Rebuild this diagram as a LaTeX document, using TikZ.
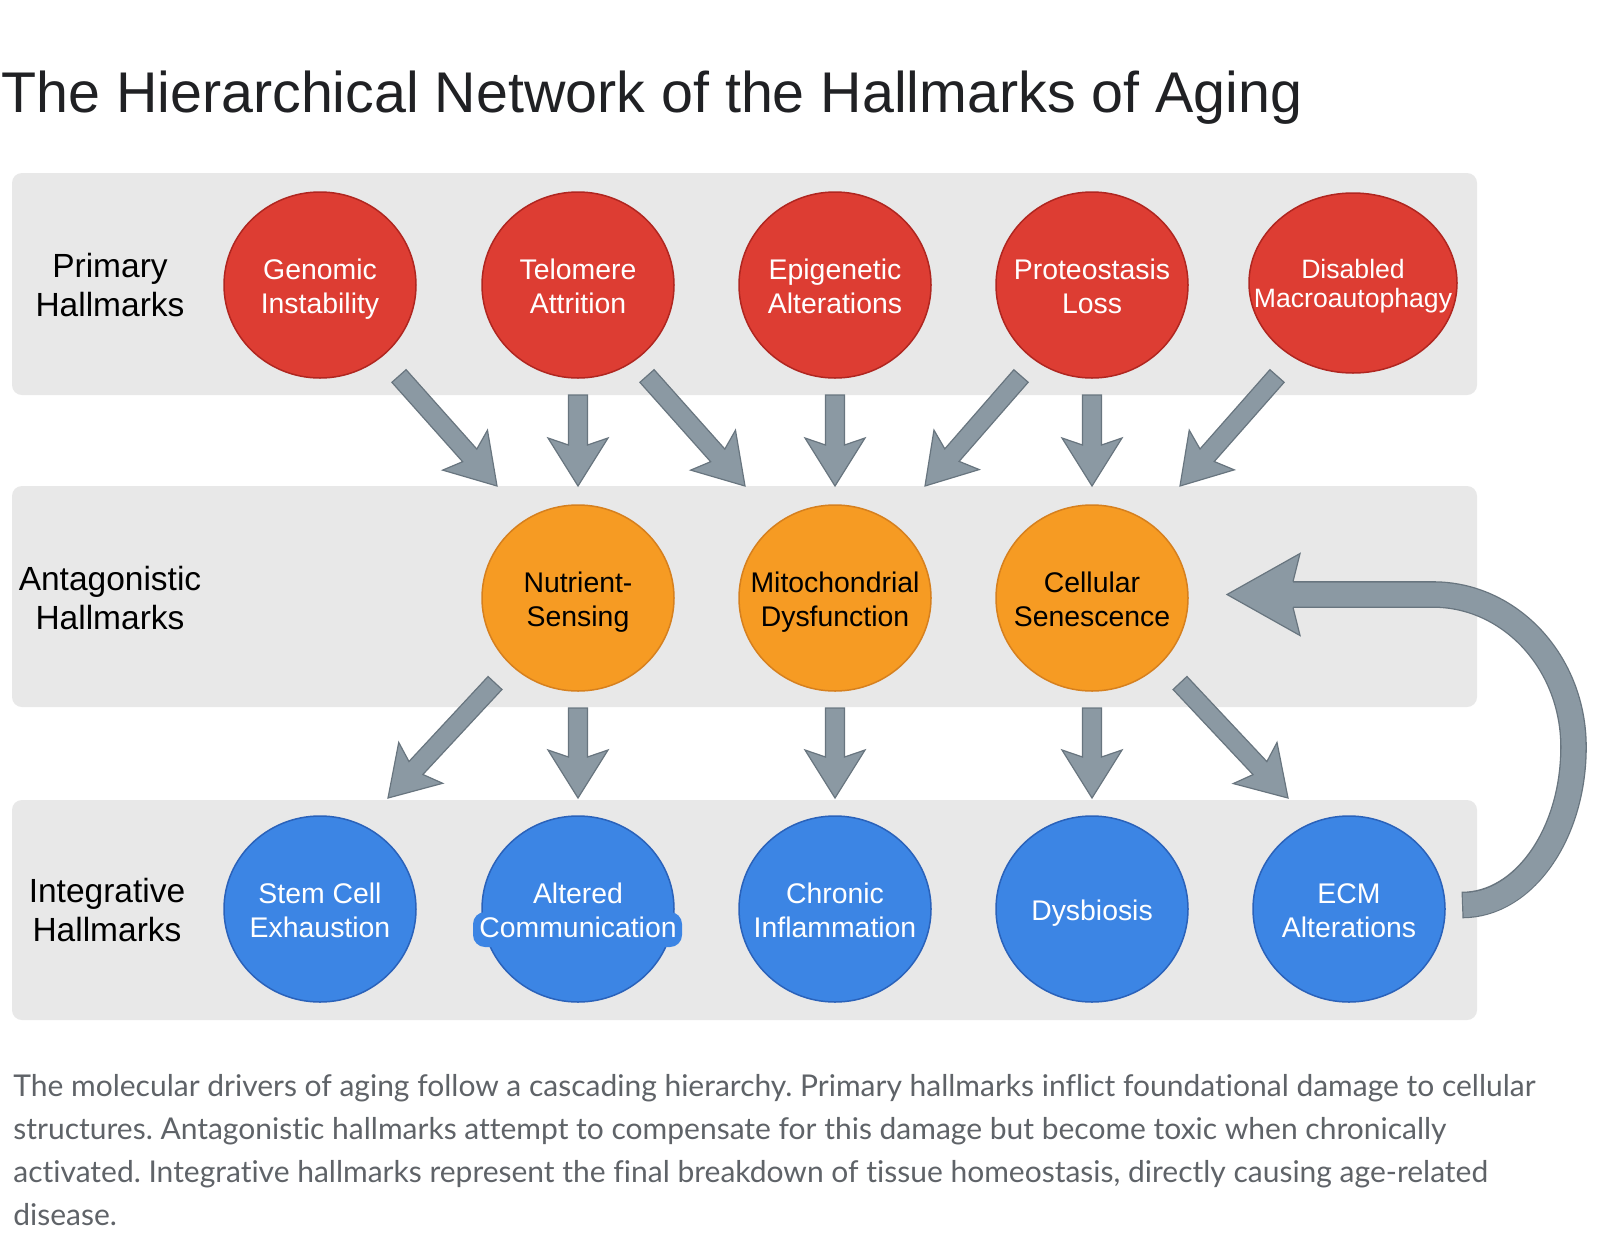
\documentclass[tikz,border=0pt]{standalone}
\usepackage{fontspec}
\usetikzlibrary{shapes.geometric,calc}
\setmainfont{Liberation Sans}
\newfontfamily\capfont[Ligatures=NoCommon]{Lato}
\frenchspacing
\definecolor{bandgray}{RGB}{232,232,232}
\definecolor{redfill}{RGB}{221,61,51}
\definecolor{redline}{RGB}{176,38,32}
\definecolor{orfill}{RGB}{246,155,35}
\definecolor{orline}{RGB}{214,128,30}
\definecolor{blfill}{RGB}{60,133,228}
\definecolor{blline}{RGB}{42,98,186}
\definecolor{arrfill}{RGB}{139,153,163}
\definecolor{arrline}{RGB}{104,117,127}
\definecolor{titlecol}{RGB}{32,33,36}
\definecolor{capgray}{RGB}{95,99,104}
\newsavebox\capbox
\newcommand\hmArrow[2]{%
  \path ($(#2)!20.5pt!(#1)$) coordinate (hmJ) ($(#2)!24pt!(#1)$) coordinate (hmK);
  \filldraw[arrowbody] ($(#1)!4.75pt!90:(#2)$) -- ($(hmJ)!4.75pt!90:(#2)$) -- ($(hmK)!15pt!90:(#2)$) -- (#2) -- ($(hmK)!15pt!-90:(#2)$) -- ($(hmJ)!4.75pt!-90:(#2)$) -- ($(#1)!4.75pt!-90:(#2)$) -- cycle;}
% #1 shape style, #2 name, #3 position, #4 text style, #5 text
\newcommand\hmNode[5]{%
  \node[#1] (#2) at (#3) {};
  \node[#4] (#2T) at (#2.center) {\strut #5\strut};}
\newcommand\capline[1]{\scalebox{\capscale}{\capfont\fontsize{14}{17}\selectfont #1}}
\tikzset{
  band/.style={fill=bandgray, rounded corners=5pt},
  hm/.style={ellipse, inner sep=0pt, minimum width=96pt, minimum height=93pt, line width=0.75pt},
  prim/.style={hm, fill=redfill, draw=redline},
  anta/.style={hm, fill=orfill, draw=orline},
  integ/.style={hm, fill=blfill, draw=blline},
  htext/.style={inner sep=0pt, align=center, yshift=-2.1pt, font=\fontsize{14.2}{17}\selectfont},
  wtext/.style={htext, text=white},
  btext/.style={htext, text=black},
  rowlabel/.style={align=center, font=\fontsize{16.75}{19.5}\selectfont, text=black, inner sep=0pt},
  arrowbody/.style={fill=arrfill, draw=arrline, line width=0.6pt, line join=miter},
  capnode/.style={anchor=base west, inner sep=0pt, text=capgray},
}
\begin{document}
\sbox\capbox{\capfont\fontsize{14}{17}\selectfont The molecular drivers of aging follow a cascading hierarchy. Primary hallmarks inflict foundational damage to cellular}%
\pgfmathsetmacro\capscale{761pt/\the\wd\capbox}%
\begin{tikzpicture}[x=0.5pt, y=-0.5pt]
\useasboundingbox (0,0) rectangle (1600,1248);
\fill[white] (0,0) rectangle (1600,1248);

% title
\node[anchor=base west, inner sep=0pt, text=titlecol] (title) at (1,112)
  {\resizebox{650.5pt}{!}{\fontsize{28.75}{34}\selectfont The Hierarchical Network of the Hallmarks of Aging}};

% bands
\fill[band] (12,173) rectangle (1477,395);
\fill[band] (12,486) rectangle (1477,707);
\fill[band] (12,800) rectangle (1477,1020);

% row labels
\node[rowlabel] (lab1) at (110,285) {Primary\\Hallmarks};
\node[rowlabel] (lab2) at (110,598) {Antagonistic\\Hallmarks};
\node[rowlabel] (lab3) at (107,910) {Integrative\\Hallmarks};

% primary
\hmNode{prim}{gen}{320,285}{wtext}{Genomic\\Instability}
\hmNode{prim}{tel}{578,285}{wtext}{Telomere\\Attrition}
\hmNode{prim}{epi}{835,285}{wtext}{Epigenetic\\Alterations}
\hmNode{prim}{pro}{1092,285}{wtext}{Proteostasis\\Loss}
\hmNode{prim, minimum width=104pt, minimum height=90pt}{mac}{1353,283}{wtext, font=\fontsize{13.3}{14.5}\selectfont}{Disabled\\Macroautophagy}

% antagonistic
\hmNode{anta}{nut}{578,598}{btext}{Nutrient-\\Sensing}
\hmNode{anta}{mit}{835,598}{btext}{Mitochondrial\\Dysfunction}
\hmNode{anta}{cel}{1092,598}{btext}{Cellular\\Senescence}

% integrative
\hmNode{integ}{ste}{320,909}{wtext}{Stem Cell\\Exhaustion}
\node[integ] (alt) at (578,909) {};
\fill[blfill, rounded corners=6pt] (473,912) rectangle (682,947);
\node[wtext] (altT) at (alt.center) {\strut Altered\\Communication\strut};
\hmNode{integ}{chr}{835,909}{wtext}{Chronic\\Inflammation}
\hmNode{integ}{dys}{1092,909}{wtext}{Dysbiosis}
\hmNode{integ}{ecm}{1349,909}{wtext}{ECM\\Alterations}

% arrow end points
\coordinate (a1s) at (399,376);  \coordinate (a1e) at (497,486);
\coordinate (a2s) at (578,395);  \coordinate (a2e) at (578,486);
\coordinate (a3s) at (647,376);  \coordinate (a3e) at (745,486);
\coordinate (a4s) at (835,395);  \coordinate (a4e) at (835,486);
\coordinate (a5s) at (1021,376); \coordinate (a5e) at (925,486);
\coordinate (a6s) at (1092,395); \coordinate (a6e) at (1092,486);
\coordinate (a7s) at (1277,376); \coordinate (a7e) at (1180,486);
\coordinate (b1s) at (495,683);  \coordinate (b1e) at (388,798);
\coordinate (b2s) at (578,708);  \coordinate (b2e) at (578,798);
\coordinate (b3s) at (835,708);  \coordinate (b3e) at (835,798);
\coordinate (b4s) at (1092,708); \coordinate (b4e) at (1092,798);
\coordinate (b5s) at (1180,683); \coordinate (b5e) at (1288,798);

\hmArrow{a1s}{a1e}
\hmArrow{a2s}{a2e}
\hmArrow{a3s}{a3e}
\hmArrow{a4s}{a4e}
\hmArrow{a5s}{a5e}
\hmArrow{a6s}{a6e}
\hmArrow{a7s}{a7e}
\hmArrow{b1s}{b1e}
\hmArrow{b2s}{b2e}
\hmArrow{b3s}{b3e}
\hmArrow{b4s}{b4e}
\hmArrow{b5s}{b5e}

% feedback arrow
\coordinate (fbS) at (1462,905);
\coordinate (fbE) at (1227,594.5);
\draw[line width=13.3pt, arrline] (fbS) .. controls (1523.6,905) and (1573.5,834.3) .. (1573.5,747) .. controls (1573.5,662.8) and (1510.6,594.5) .. (1433,594.5) -- (1290,594.5);
\draw[line width=12pt, arrfill, shorten <=0.6pt] (fbS) .. controls (1523.6,905) and (1573.5,834.3) .. (1573.5,747) .. controls (1573.5,662.8) and (1510.6,594.5) .. (1433,594.5) -- (1290,594.5);
\filldraw[arrowbody] ($(fbE)+(66,-13)$) -- ($(fbE)+(73,-41)$) -- (fbE) -- ($(fbE)+(73,41)$) -- ($(fbE)+(66,13)$);

% caption
\node[capnode] (cap1) at (13,1096) {\capline{The molecular drivers of aging follow a cascading hierarchy. Primary hallmarks inflict foundational damage to cellular}};
\node[capnode] (cap2) at (13,1139) {\capline{structures. Antagonistic hallmarks attempt to compensate for this damage but become toxic when chronically}};
\node[capnode] (cap3) at (13,1182) {\capline{activated. Integrative hallmarks represent the final breakdown of tissue homeostasis, directly causing age-related}};
\node[capnode] (cap4) at (13,1225) {\capline{disease.}};
\end{tikzpicture}
\end{document}
